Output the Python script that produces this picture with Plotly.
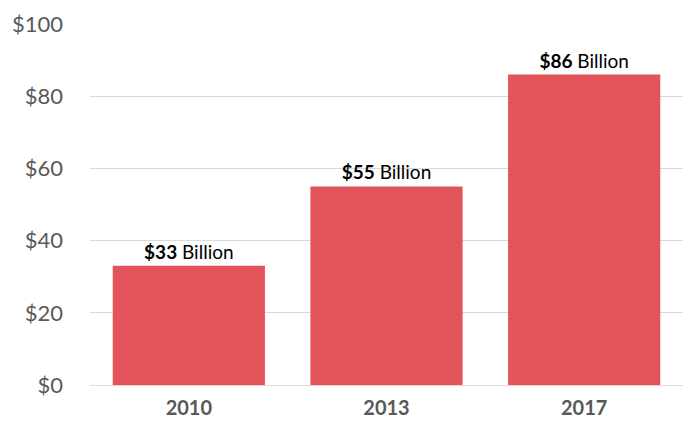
import plotly.graph_objects as go

# 年ごとの金額（十億ドル）
years = ['2010', '2013', '2017']
values = [33, 55, 86]
y_ticks = [0, 20, 40, 60, 80, 100]
y_tick_labels = ['$0', '$20', '$40', '$60', '$80', '$100']

bar_color = '#E3545A'

fig = go.Figure(
    go.Bar(
        x=years,
        y=values,
        marker=dict(color=bar_color, line=dict(width=0)),
        texttemplate='<b>$%{y}</b> Billion',
        textposition='outside',
        textfont=dict(family='Lato', size=19, color='black'),
        cliponaxis=False,
    )
)

# ページ余白(8px)の分だけ余白をずらす
fig.update_layout(
    width=700,
    height=432,
    margin=dict(l=82, r=25, t=16, b=55),
    plot_bgcolor='white',
    paper_bgcolor='white',
    bargap=0.23,
    showlegend=False,
    font=dict(family='Lato', color='#595959'),
)

fig.update_xaxes(
    automargin=False,
    showgrid=False,
    showline=False,
    ticks='',
    ticklabelstandoff=9,
    tickfont=dict(size=20, color='#595959', weight='bold'),
)

fig.update_yaxes(
    automargin=False,
    range=[0, 100],
    tickvals=y_ticks,
    ticktext=y_tick_labels,
    showgrid=True,
    gridcolor='#D9D9D9',
    gridwidth=1,
    zeroline=True,
    zerolinecolor='#E8D6D6',
    zerolinewidth=1,
    showline=False,
    ticks='',
    ticklabelstandoff=26,
    tickfont=dict(size=22, color='#595959'),
)

fig.write_html('out.html')
